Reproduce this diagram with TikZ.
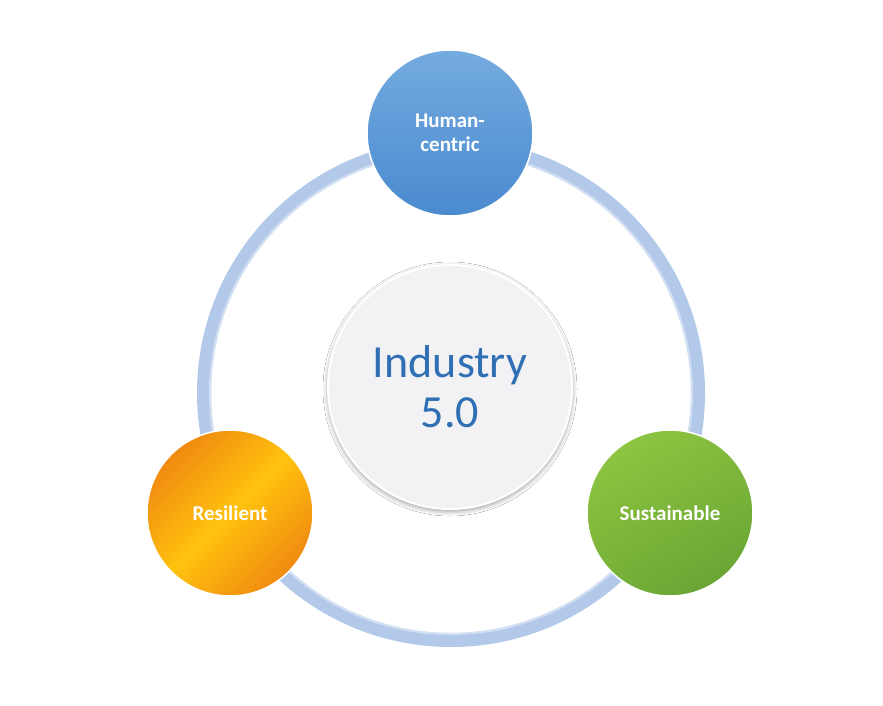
\documentclass[tikz,border=0pt]{standalone}
\usepackage{fontspec}
\setmainfont{Carlito}
\usetikzlibrary{shadows.blur}
\definecolor{ringc}{HTML}{B3C9E9}
\definecolor{ringl}{HTML}{D3E0F3}
\definecolor{bluea}{HTML}{74ABE0}
\definecolor{blueb}{HTML}{4A8ACF}
\definecolor{orga}{HTML}{FFC20E}
\definecolor{orgb}{HTML}{F08A10}
\definecolor{grna}{HTML}{8DC440}
\definecolor{grnb}{HTML}{6AA634}
\definecolor{midc}{HTML}{F2F2F4}
\definecolor{txtblue}{HTML}{2F6FB3}
\tikzset{
  ball/.style={circle, minimum size=166pt, inner sep=0pt, draw=white, line width=1.5pt,
    text=white, font=\bfseries\fontsize{21}{24}\selectfont, align=center},
  hub/.style={circle, minimum size=244pt, inner sep=0pt, fill=midc, draw=white, line width=2pt,
    blur shadow={shadow xshift=0pt, shadow yshift=-2pt, shadow blur radius=5pt, shadow opacity=45},
    text=txtblue, font=\fontsize{46}{50}\selectfont, align=center}
}
\begin{document}
\begin{tikzpicture}[x=1pt,y=-1pt]
\useasboundingbox[fill=white] (0,0) rectangle (883,706);
% ring
\coordinate (rc) at (451,393);
\draw[ringc, line width=14pt] (rc) circle[radius=247];
\draw[ringl, line width=2pt] (rc) circle[radius=241];
% hub
\node[hub] (hub) at (450,387) {Industry\\5.0};
% balls
\node[ball, top color=bluea, bottom color=blueb] (hc) at (450,133) {Human-\\centric};
\node[ball, left color=orgb, right color=orgb, middle color=orga, shading angle=45] (res) at (230,513) {Resilient};
\node[ball, left color=grna, right color=grnb, shading angle=30] (sus) at (670,513) {Sustainable};
\end{tikzpicture}
\end{document}
